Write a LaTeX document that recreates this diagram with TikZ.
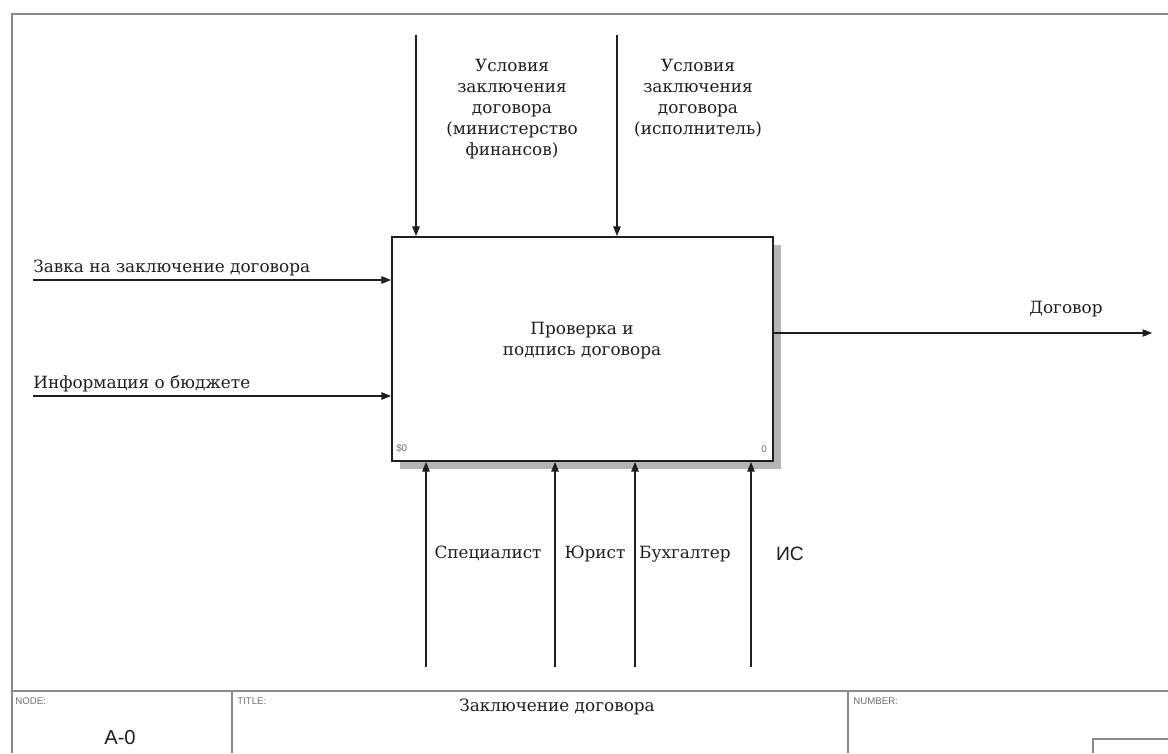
\documentclass[tikz,border=0pt]{standalone}
\usepackage{fontspec}
\setmainfont{DejaVu Serif}
\newfontfamily\sansf{Liberation Sans}
\usetikzlibrary{
  positioning,
  arrows.meta,
  shadows
}
\usepackage{xcolor}
\definecolor{frame}{HTML}{8A8A8A}
\definecolor{shade}{HTML}{B4B4B4}
\definecolor{ink}{HTML}{1E1E1E}

\begin{document}
\begin{tikzpicture}[
  x=0.02cm, y=-0.02cm,
  func/.style={draw=ink, line width=1.2pt, fill=white, minimum width=7.62cm,
               minimum height=4.48cm, inner sep=0pt,
               drop shadow={shadow xshift=0.16cm, shadow yshift=-0.16cm,
                            fill=shade, opacity=1}},
  lbl/.style={font=\fontsize{9.6}{12}\selectfont, text=ink, inner sep=0pt, align=center},
  tiny/.style={font=\sansf\fontsize{5.5}{6}\selectfont, text=frame!80!black, inner sep=0pt},
  arr/.style={-{Triangle[length=1.9mm,width=1.5mm]}, ink, line width=0.6pt},
  rule/.style={frame, line width=1.2pt}
]
  \useasboundingbox (0,0) rectangle (1168,753);

  % Frame of the sheet
  \draw[rule] (1168,14) -- (12,14) -- (12,753);
  \draw[rule] (12,691) -- (1168,691);
  \draw[rule] (232,691) -- (232,753);
  \draw[rule] (848,691) -- (848,753);
  \draw[rule, line width=0.8pt] (1093,753) -- (1093,739) -- (1168,739);

  % Function block
  \node[func] (blk) at (582.5,349) {};
  \node[lbl] (blktxt) at (582,341) {Проверка и\\подпись договора};
  \node[tiny, anchor=south west] (blkid) at (396,453) {\$0};
  \node[tiny, anchor=south east] (blkno) at (767,453) {0};

  % Controls
  \coordinate (c1) at (416,35);
  \coordinate (c2) at (617,35);
  \draw[arr] (c1) -- (c1 |- blk.north);
  \draw[arr] (c2) -- (c2 |- blk.north);
  \node[lbl, anchor=north] (ctl1) at (512,59)
    {Условия\\заключения\\договора\\(министерство\\финансов)};
  \node[lbl, anchor=north] (ctl2) at (698,59)
    {Условия\\заключения\\договора\\(исполнитель)};

  % Inputs
  \coordinate (i1) at (33,280);
  \coordinate (i2) at (33,396);
  \draw[arr] (i1) -- (i1 -| blk.west);
  \draw[arr] (i2) -- (i2 -| blk.west);
  \node[lbl, anchor=base west] (in1) at (33,272) {Завка на заключение договора};
  \node[lbl, anchor=base west] (in2) at (33,388) {Информация о бюджете};

  % Output
  \coordinate (o1) at (1152,333);
  \draw[arr] (o1 -| blk.east) -- (o1);
  \node[lbl, anchor=base] (out1) at (1066,313) {Договор};

  % Mechanisms
  \coordinate (m1) at (426,667);
  \coordinate (m2) at (555,667);
  \coordinate (m3) at (635,667);
  \coordinate (m4) at (751,667);
  \foreach \m in {m1,m2,m3,m4}
    \draw[arr] (\m) -- (\m |- blk.south);
  \node[lbl, anchor=base] (mech1) at (488,558) {Специалист};
  \node[lbl, anchor=base] (mech2) at (595,558) {Юрист};
  \node[lbl, anchor=base] (mech3) at (685,558) {Бухгалтер};
  \node[lbl, anchor=base, font=\sansf\fontsize{11}{12}\selectfont] (mech4) at (790,560) {ИС};

  % Footer
  \node[tiny, anchor=north west] (nodecap) at (15,697) {NODE:};
  \node[lbl, anchor=base, font=\sansf\fontsize{11.5}{12}\selectfont] (nodeid) at (120,744) {A-0};
  \node[tiny, anchor=north west] (titlecap) at (237,697) {TITLE:};
  \node[lbl, anchor=base] (title) at (557,711) {Заключение договора};
  \node[tiny, anchor=north west] (numcap) at (853,697) {NUMBER:};
\end{tikzpicture}
\end{document}
